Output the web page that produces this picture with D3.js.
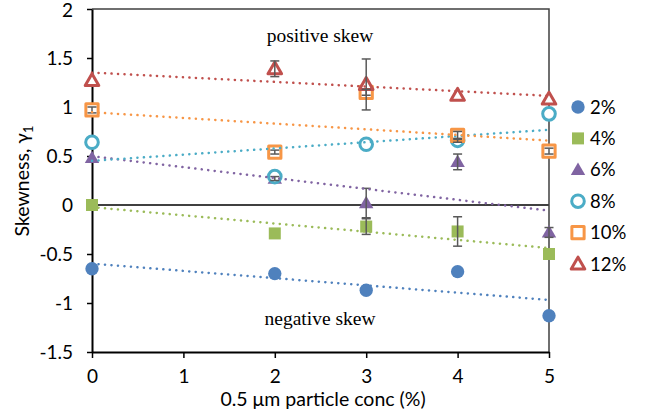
<!DOCTYPE html>
<html>
<head>
<meta charset="utf-8">
<script src="https://cdn.jsdelivr.net/npm/d3@7"></script>
<style>
  body { margin: 0; background: #fff; }
  svg text { font-family: Lato, "Open Sans", sans-serif; }
</style>
</head>
<body>
<div class="graph"></div>
<script>
// particle conc (%) on the x axis
const conc = [0, 2, 3, 4, 5];

// skewness per series
const s2  = [-0.65, -0.70, -0.87, -0.68, -1.13];
const s4  = [ 0.00, -0.29, -0.22, -0.27, -0.50];
const s6  = [ 0.48,  0.27,  0.02,  0.44, -0.28];
const s8  = [ 0.64,  0.29,  0.62,  0.66,  0.93];
const s10 = [ 0.97,  0.54,  1.15,  0.71,  0.55];
const s12 = [ 1.27,  1.39,  1.23,  1.12,  1.08];

// error bar half widths
const e2  = [0, 0, 0, 0, 0];
const e4  = [0, 0, 0.08, 0.15, 0];
const e6  = [0, 0.02, 0.15, 0.08, 0.05];
const e8  = [0, 0, 0, 0.02, 0];
const e10 = [0.03, 0.02, 0.03, 0.04, 0.03];
const e12 = [0, 0.08, 0.26, 0, 0];

const labels = ["2%", "4%", "6%", "8%", "10%", "12%"];
const xTicks = [0, 1, 2, 3, 4, 5];
const yTicks = [-1.5, -1, -0.5, 0, 0.5, 1, 1.5, 2];

const series = [
  {name: labels[0], vals: s2,  err: e2,  color: "#4F81BD", shape: d3.symbolCircle,   hollow: false, size: 140},
  {name: labels[1], vals: s4,  err: e4,  color: "#9BBB59", shape: d3.symbolSquare,   hollow: false, size: 144},
  {name: labels[2], vals: s6,  err: e6,  color: "#8064A2", shape: d3.symbolTriangle, hollow: false, size: 90},
  {name: labels[3], vals: s8,  err: e8,  color: "#4BACC6", shape: d3.symbolCircle,   hollow: true,  size: 125},
  {name: labels[4], vals: s10, err: e10, color: "#F79646", shape: d3.symbolSquare,   hollow: true,  size: 150},
  {name: labels[5], vals: s12, err: e12, color: "#C0504D", shape: d3.symbolTriangle, hollow: true,  size: 80}
];

const width = 646, height = 414;
const plot = {left: 92, right: 549, top: 9, bottom: 352};

const svg = d3.select(".graph").append("svg")
  .attr("width", width)
  .attr("height", height);

const x = d3.scaleLinear().domain([0, 5]).range([plot.left, plot.right]);
const y = d3.scaleLinear().domain([-1.5, 2]).range([plot.bottom, plot.top]);

// frame (top + right)
svg.append("path")
  .attr("d", `M${plot.left},${plot.top}H${plot.right}V${plot.bottom}`)
  .attr("fill", "none")
  .attr("stroke", "#404040")
  .attr("stroke-width", 1.5);

// zero line
svg.append("line")
  .attr("x1", x(0)).attr("x2", x(5))
  .attr("y1", y(0)).attr("y2", y(0))
  .attr("stroke", "#404040")
  .attr("stroke-width", 2);

const xAxis = d3.axisBottom(x).tickValues(xTicks).tickSize(6).tickSizeOuter(0).tickPadding(12)
  .tickFormat(d3.format("d"));
const yAxis = d3.axisLeft(y).tickValues(yTicks).tickSize(5).tickSizeOuter(0).tickPadding(14)
  .tickFormat(d => d < 0 ? "-" + Math.abs(d) : String(d));

const gx = svg.append("g")
  .attr("transform", "translate(0," + plot.bottom + ")")
  .call(xAxis);
const gy = svg.append("g")
  .attr("transform", "translate(" + plot.left + ",0)")
  .call(yAxis);

[gx, gy].forEach(g => {
  g.select(".domain").attr("stroke", "#000").attr("stroke-width", 2);
  g.selectAll(".tick line").attr("stroke", "#000").attr("stroke-width", 1.5);
  g.selectAll(".tick text")
    .attr("fill", "#000")
    .style("font-size", "19px")
    .style("font-family", "Lato, sans-serif");
});
gy.select(".tick:last-of-type text").attr("dy", "0.42em");

// axis titles
svg.append("text")
  .attr("x", 323).attr("y", 406)
  .attr("text-anchor", "middle")
  .style("font-size", "19.5px")
  .text("0.5 μm particle conc (%)");

const yt = svg.append("text")
  .attr("transform", "translate(29,181) rotate(-90)")
  .attr("text-anchor", "middle")
  .style("font-size", "19.5px");
yt.append("tspan").text("Skewness, γ");
yt.append("tspan").attr("dy", 4).style("font-size", "13px").text("1");

// annotations
svg.append("text")
  .attr("x", 320).attr("y", 42)
  .attr("text-anchor", "middle")
  .style("font-family", "'Liberation Serif', serif")
  .style("font-size", "19.5px")
  .text("positive skew");
svg.append("text")
  .attr("x", 320).attr("y", 325)
  .attr("text-anchor", "middle")
  .style("font-family", "'Liberation Serif', serif")
  .style("font-size", "19.5px")
  .text("negative skew");

function marker(sel, s) {
  sel.attr("d", d3.symbol().type(s.shape).size(s.size))
    .attr("fill", s.hollow ? "#fff" : s.color)
    .attr("stroke", s.hollow ? s.color : "none")
    .attr("stroke-width", s.hollow ? 3 : 0)
    .attr("stroke-linejoin", "round");
}

// markers
series.forEach(s => {
  const dy = s.shape === d3.symbolTriangle ? 1 : 0;
  svg.append("g").selectAll("path")
    .data(conc.map((c, i) => ({x: c, y: s.vals[i]})))
    .enter().append("path")
    .call(marker, s)
    .attr("transform", d => "translate(" + x(d.x) + "," + (y(d.y) + dy) + ")");
});

// error bars
series.forEach(s => {
  const g = svg.append("g").attr("stroke", "#595959").attr("stroke-width", 1.5);
  conc.forEach((c, i) => {
    const e = s.err[i];
    if (!e) return;
    const cx = x(c), y1 = y(s.vals[i] + e), y2 = y(s.vals[i] - e);
    g.append("line").attr("x1", cx).attr("x2", cx).attr("y1", y1).attr("y2", y2);
    g.append("line").attr("x1", cx - 4.5).attr("x2", cx + 4.5).attr("y1", y1).attr("y2", y1);
    g.append("line").attr("x1", cx - 4.5).attr("x2", cx + 4.5).attr("y1", y2).attr("y2", y2);
  });
});

// linear trendlines (least squares, like excel)
series.forEach(s => {
  const mx = d3.mean(conc), my = d3.mean(s.vals);
  const sxy = d3.sum(conc, (c, i) => (c - mx) * (s.vals[i] - my));
  const sxx = d3.sum(conc, c => (c - mx) * (c - mx));
  const slope = sxy / sxx, icpt = my - slope * mx;
  const line = d3.line().x(d => x(d)).y(d => y(icpt + slope * d));
  svg.append("path")
    .attr("d", line([0, 5]))
    .attr("fill", "none")
    .attr("stroke", s.color)
    .attr("stroke-width", 2.5)
    .attr("stroke-linecap", "round")
    .attr("stroke-dasharray", "0.1 6.4");
});

// legend
const legend = svg.append("g");
series.forEach((s, i) => {
  const ly = 107 + i * 31.4;
  const dy = s.shape === d3.symbolTriangle ? 1 : 0;
  legend.append("path")
    .call(marker, s)
    .attr("transform", "translate(578," + (ly + dy) + ")");
  legend.append("text")
    .attr("x", 590).attr("y", ly)
    .attr("dy", "0.36em")
    .style("font-size", "18.5px")
    .text(s.name);
});
</script>
</body>
</html>
